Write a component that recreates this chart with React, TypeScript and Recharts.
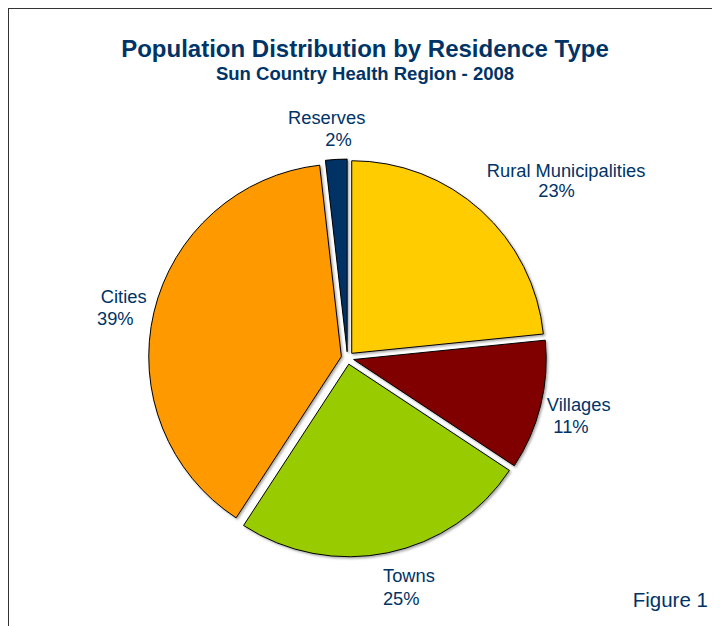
import React from 'react';
import { PieChart, Pie, Sector } from 'recharts';

// ---- data ----
const categories = ['Rural Municipalities', 'Villages', 'Towns', 'Cities', 'Reserves'];
const shares = [23.4, 10.9, 24.9, 39.0, 1.8];
const percentLabels = ['23%', '11%', '25%', '39%', '2%'];
const colors = ['#FFCC00', '#800000', '#99CC00', '#FF9900', '#003366'];

const data = categories.map((name, i) => ({ name, value: shares[i], pct: percentLabels[i] }));

// ---- layout / style ----
const W = 711;
const H = 617;
const CX = 338.5;
const CY = 349;
const R = 192.6;
const EXPLODE = 6.3;
const LABEL_R = 234;
const NAVY = '#003366';
const FONT = '"Liberation Sans", Arial, Helvetica, sans-serif';
const LABEL_SIZE = 18.3;
// per-label nudges: [dx line1, dy line1, dx line2, dy line2]
const LABEL_NUDGE: Record<string, number[]> = {
  'Rural Municipalities': [61.6, -7.7, 52.1, 12.9],
  Villages: [4, -3.4, -3.7, 19.2],
  Towns: [14, -5.4, 6.3, 17.9],
  Cities: [3.9, -1.4, -4.5, 20.9],
  Reserves: [-7.6, 0, 4.2, 21.3],
};

const renderSlice = (props: any) => {
  const { cx, cy, outerRadius, startAngle, endAngle, midAngle, index, name, payload } = props;
  const rad = (midAngle * Math.PI) / 180;
  const ux = Math.cos(rad);
  const uy = -Math.sin(rad);
  const ax = cx + LABEL_R * ux;
  const ay = cy + LABEL_R * uy;
  const n = LABEL_NUDGE[name] || [0, -4, 0, 18];
  return (
    <g key={`slice-${index}`}>
      <Sector
        cx={cx + EXPLODE * ux}
        cy={cy + EXPLODE * uy}
        innerRadius={0}
        outerRadius={outerRadius}
        startAngle={startAngle}
        endAngle={endAngle}
        fill={colors[index]}
        stroke="#000"
        strokeWidth={1}
        filter="url(#sliceShadow)"
      />
      <text x={ax + n[0]} y={ay + n[1]} textAnchor="middle" fill={NAVY} fontFamily={FONT} fontSize={LABEL_SIZE}>
        {name}
      </text>
      <text x={ax + n[2]} y={ay + n[3]} textAnchor="middle" fill={NAVY} fontFamily={FONT} fontSize={LABEL_SIZE}>
        {payload && payload.pct ? payload.pct : percentLabels[index]}
      </text>
    </g>
  );
};

export default function App() {
  return (
    <div
      style={{
        width: W,
        height: H,
        borderLeft: '1px solid #333',
        borderTop: '1px solid #333',
        background: '#fff',
        overflow: 'hidden',
      }}
    >
      <PieChart width={W} height={H} margin={{ top: 0, right: 0, bottom: 0, left: 0 }}>
        <defs>
          <filter id="sliceShadow" x="-10%" y="-10%" width="130%" height="130%">
            <feDropShadow dx="1.5" dy="1.5" stdDeviation="1" floodColor="#000" floodOpacity="0.35" />
          </filter>
        </defs>
        <text x={356} y={47.7} textAnchor="middle" fill={NAVY} fontFamily={FONT} fontSize={24} fontWeight="bold">
          Population Distribution by Residence Type
        </text>
        <text x={356} y={71} textAnchor="middle" fill={NAVY} fontFamily={FONT} fontSize={18.5} fontWeight="bold">
          Sun Country Health Region - 2008
        </text>
        <Pie
          data={data}
          dataKey="value"
          nameKey="name"
          cx={CX}
          cy={CY}
          innerRadius={0}
          outerRadius={R}
          startAngle={90}
          endAngle={-270}
          fill="none"
          stroke="none"
          label={renderSlice}
          labelLine={false}
          isAnimationActive={false}
        />
        <text x={623.7} y={597.7} textAnchor="start" fill={NAVY} fontFamily={FONT} fontSize={20.5}>
          Figure 1
        </text>
      </PieChart>
    </div>
  );
}
